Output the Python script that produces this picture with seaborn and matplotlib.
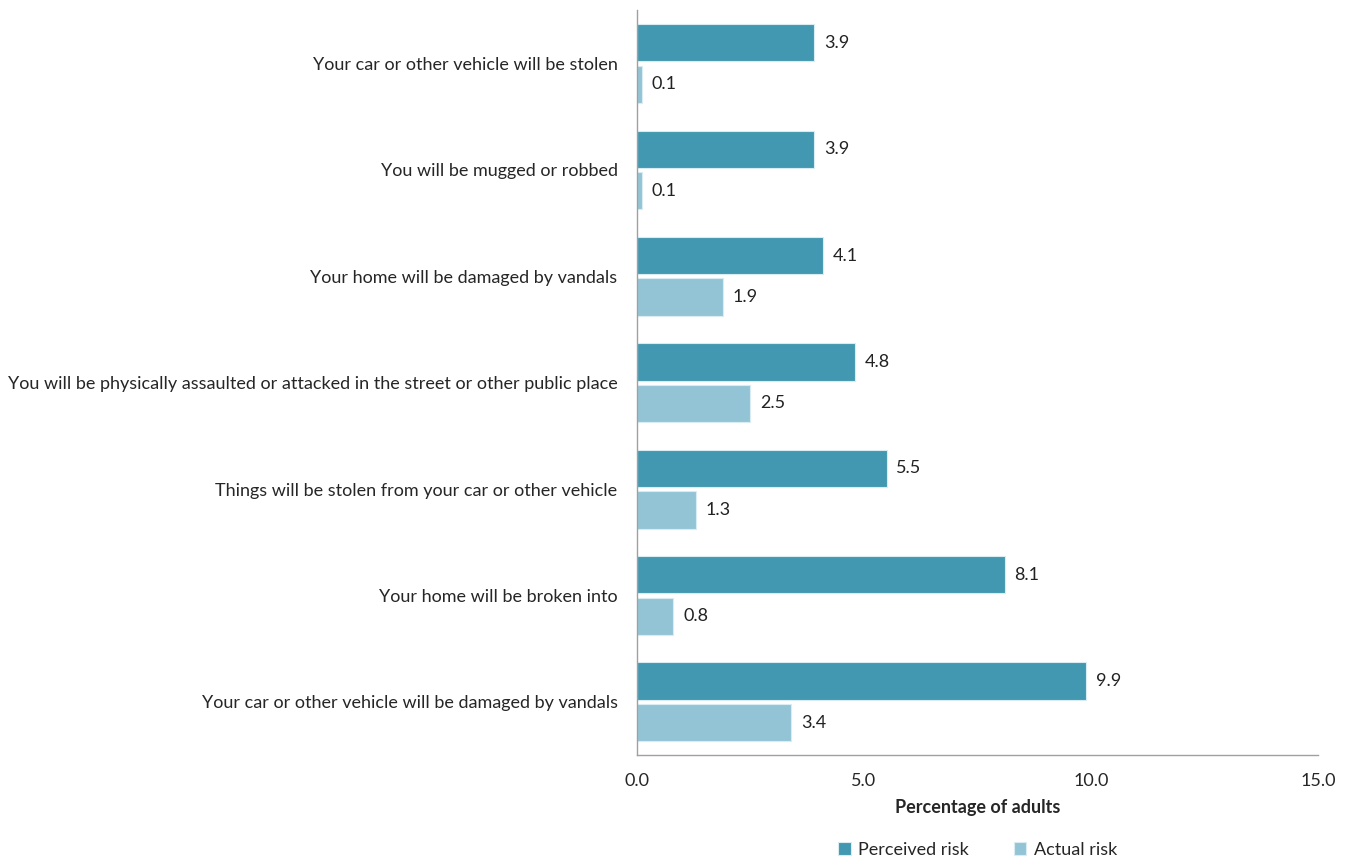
import pandas as pd
import matplotlib.pyplot as plt
import seaborn as sns

sns.set_theme(style="white")
plt.rcParams['font.family'] = ['Lato', 'DejaVu Sans']

# 数据
categories = [
    "Your car or other vehicle will be stolen",
    "You will be mugged or robbed",
    "Your home will be damaged by vandals",
    "You will be physically assaulted or attacked in the street or other public place",
    "Things will be stolen from your car or other vehicle",
    "Your home will be broken into",
    "Your car or other vehicle will be damaged by vandals",
]
perceived = [3.9, 3.9, 4.1, 4.8, 5.5, 8.1, 9.9]
actual = [0.1, 0.1, 1.9, 2.5, 1.3, 0.8, 3.4]
series = ["Perceived risk", "Actual risk"]
colors = ["#4298b0", "#93c4d6"]

df = pd.DataFrame({
    "category": categories * 2,
    "value": perceived + actual,
    "series": [series[0]] * len(categories) + [series[1]] * len(categories),
})

fig = plt.figure(figsize=(13.53, 8.61), dpi=100)
ax = fig.add_axes([0.4708, 0.123, 0.5033, 0.865])

sns.barplot(data=df, y="category", x="value", hue="series", orient="h",
            palette=colors, saturation=1, width=0.78, gap=0.1,
            edgecolor="#d8ecf2", linewidth=0.8, ax=ax, legend=True)

# 数值标签
for cont in ax.containers:
    ax.bar_label(cont, fmt="%.1f", padding=7, fontsize=13, color="#222222")

ax.set_xlim(0, 15)
ax.set_xticks([0, 5, 10, 15])
ax.set_xticklabels(["0.0", "5.0", "10.0", "15.0"], fontsize=13)
ax.set_xlabel("Percentage of adults", fontsize=13, fontweight="bold", labelpad=7)
ax.set_ylabel("")
ax.tick_params(axis="y", length=0, labelsize=13, pad=14)
ax.set_yticks([i - 0.5 for i in range(len(categories) + 1)], minor=True)
ax.tick_params(axis="y", which="minor", length=6, color="#a0a0a0", direction="out")
ax.tick_params(axis="x", length=6, color="#a0a0a0", direction="out", pad=7)
ax.set_ylim(len(categories) - 0.5, -0.5)

for side in ["top", "right"]:
    ax.spines[side].set_visible(False)
for side in ["left", "bottom"]:
    ax.spines[side].set_color("#a0a0a0")
    ax.spines[side].set_linewidth(1)

handles, labels = ax.get_legend_handles_labels()
ax.legend(handles, labels, loc="lower center", bbox_to_anchor=(0.5, -0.16),
          ncol=2, frameon=False, fontsize=13, handlelength=0.7, handleheight=0.7,
          columnspacing=2.5, handletextpad=0.4)

fig.savefig("out.png", dpi=100)
